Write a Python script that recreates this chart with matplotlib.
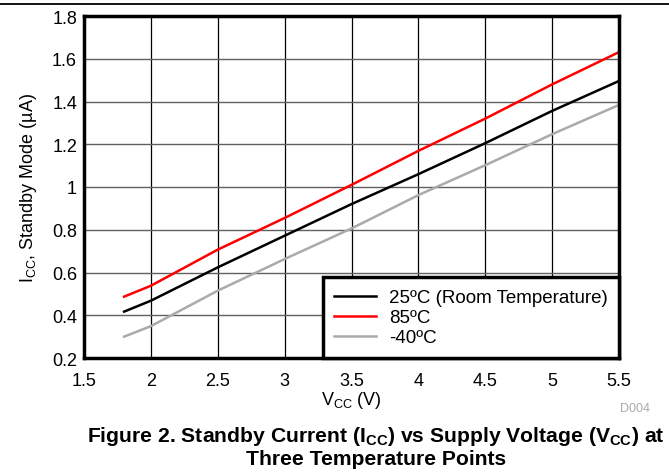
import numpy as np, matplotlib.pyplot as plt
from matplotlib import rcParams
from matplotlib.lines import Line2D

rcParams['font.family'] = ['Liberation Sans', 'DejaVu Sans']
rcParams['font.size'] = 13
rcParams['mathtext.fontset'] = 'custom'
rcParams['mathtext.rm'] = 'Liberation Sans'
rcParams['mathtext.it'] = 'Liberation Sans'
rcParams['mathtext.bf'] = 'Liberation Sans:bold'

# supply voltage (V) and standby current (uA)
vcc = [1.8, 2.0, 2.5, 3.0, 3.5, 4.0, 4.5, 5.0, 5.5]
icc_25 = [0.417, 0.468, 0.624, 0.772, 0.920, 1.060, 1.205, 1.356, 1.496]
icc_85 = [0.487, 0.538, 0.707, 0.855, 1.010, 1.169, 1.320, 1.480, 1.631]
icc_m40 = [0.300, 0.349, 0.515, 0.663, 0.806, 0.962, 1.102, 1.247, 1.384]
labels = ['25ºC (Room Temperature)', '85ºC', '-40ºC']

x_ticks = [1.5, 2, 2.5, 3, 3.5, 4, 4.5, 5, 5.5]
y_ticks = [0.2, 0.4, 0.6, 0.8, 1, 1.2, 1.4, 1.6, 1.8]

fig = plt.figure(figsize=(6.69, 4.77), dpi=100)
ax = fig.add_axes([84/669, 1-359/477, 535/669, 342/477])

# page rule at the top
fig.add_artist(Line2D([0, 1], [1-5/477, 1-5/477], color='black', lw=1.3))

ax.set_xlim(1.5, 5.5)
ax.set_ylim(0.2, 1.8)
ax.set_xticks(x_ticks)
ax.set_xticklabels(['1.5', '2', '2.5', '3', '3.5', '4', '4.5', '5', '5.5'])
ax.set_yticks(y_ticks)
ax.set_yticklabels(['0.2', '0.4', '0.6', '0.8', '1', '1.2', '1.4', '1.6', '1.8'])
ax.tick_params(axis='x', length=0, pad=10)
ax.tick_params(axis='y', length=0, pad=5)

ax.xaxis.grid(True, color='black', lw=0.9)
ax.yaxis.grid(True, color='#606060', lw=1.0)
ax.set_axisbelow(True)
for s in ax.spines.values():
    s.set_linewidth(2.5)

ax.plot(vcc, icc_25, color='black', lw=1.8, label=labels[0])
ax.plot(vcc, icc_85, color='#ff0000', lw=1.8, label=labels[1])
ax.plot(vcc, icc_m40, color='#aaaaaa', lw=1.8, label=labels[2])

leg = ax.legend(loc='lower right', borderaxespad=0, fancybox=False,
                framealpha=1, edgecolor='black', handlelength=2.2,
                handletextpad=0.7, labelspacing=0.16, borderpad=0.62,
                fontsize=13.5)
leg.get_frame().set_linewidth(2.5)

ax.set_xlabel('V$_{\\mathregular{CC}}$ (V)', labelpad=0)
ax.set_ylabel('I$_{\\mathregular{CC}}$, Standby Mode (µA)', labelpad=9)

fig.text(635/669, 1-409/477, 'D004', color='#aaaaaa', fontsize=9, ha='center', va='center')
fig.text(376/669, 1-437/477,
         'Figure 2. Standby Current (I$_{\\mathbf{CC}}$) vs Supply Voltage (V$_{\\mathbf{CC}}$) at',
         fontsize=15.2, fontweight='bold', ha='center', va='center')
fig.text(376/669, 1-460/477, 'Three Temperature Points',
         fontsize=15.2, fontweight='bold', ha='center', va='center')

plt.savefig('out.png', dpi=100)
